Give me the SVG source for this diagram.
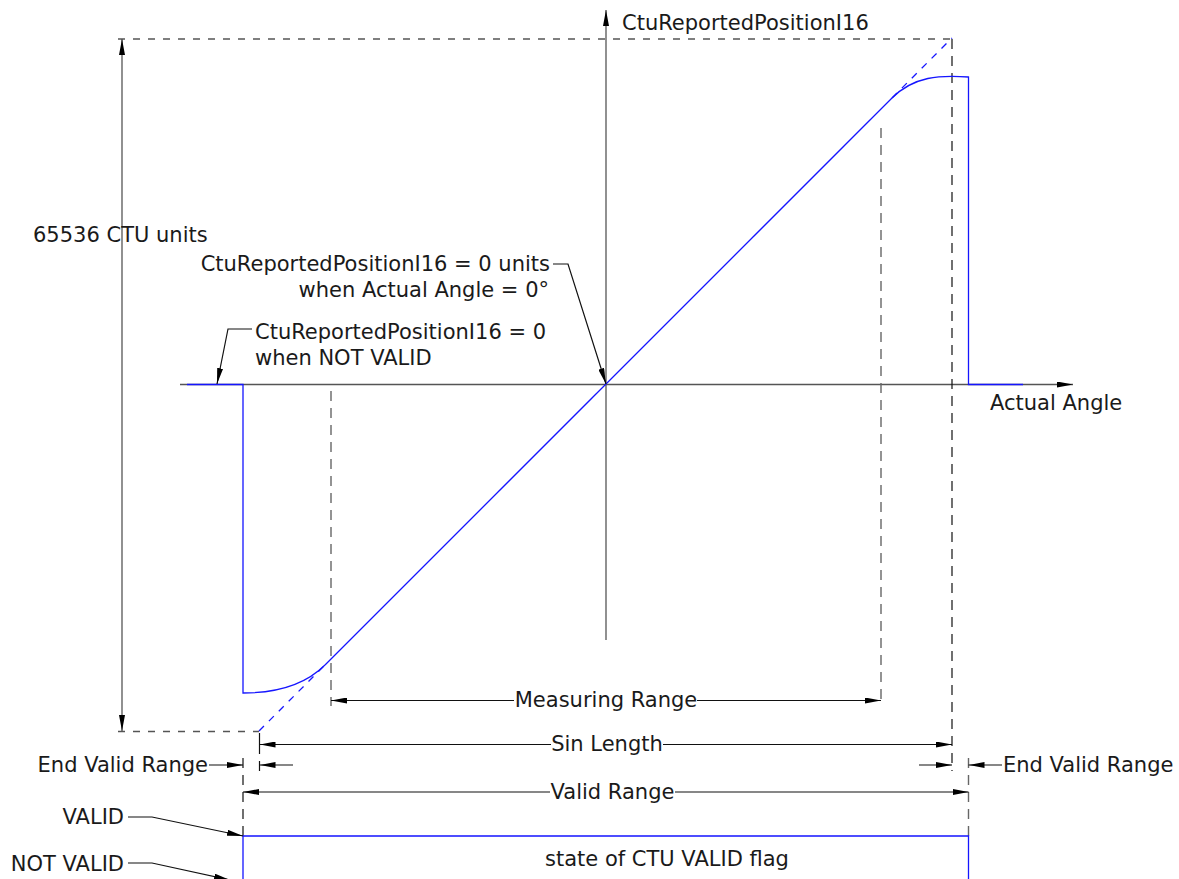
<svg xmlns="http://www.w3.org/2000/svg" width="1179" height="879" viewBox="0 0 1179 879">
<style>
text{font-family:"DejaVu Sans","Liberation Sans",sans-serif;font-size:21px;fill:#1a1a1a}
.g{stroke:#555;stroke-width:1.3;fill:none}
.k{stroke:#111;stroke-width:1.2;fill:none}
.dg{stroke:#666;stroke-width:1.4;fill:none;stroke-dasharray:10 7}
.dk{stroke:#111;stroke-width:1.2;fill:none;stroke-dasharray:10 7}
.dh{stroke:#555;stroke-width:1.3;fill:none;stroke-dasharray:7 8}
.b{stroke:#1515ff;stroke-width:1.3;fill:none}
.bd{stroke:#1515ff;stroke-width:1.3;fill:none;stroke-dasharray:7 7}
.a{marker-end:url(#arr)}
.m{text-anchor:middle}
.e{text-anchor:end}
</style>
<defs>
<marker id="arr" viewBox="0 0 16 6" refX="16" refY="3" markerWidth="16" markerHeight="6" markerUnits="userSpaceOnUse" orient="auto-start-reverse"><path d="M0,0L16,3L0,6Z" fill="#000"/></marker>
</defs>

<g id="axes">
<line class="g a" x1="180" y1="384.5" x2="1073" y2="384.5"/>
<line class="g a" x1="606" y1="640" x2="606" y2="10"/>
</g>

<g id="extension-lines">
<line class="dh" x1="118" y1="39" x2="952" y2="39"/>
<line class="dh" x1="118" y1="731.5" x2="259" y2="731.5"/>
<line class="dk" x1="952" y1="39" x2="952" y2="771"/>
<line class="dg" x1="331" y1="391" x2="331" y2="706"/>
<line class="dg" x1="881" y1="128" x2="881" y2="706"/>
<line class="k" x1="259.5" y1="733" x2="259.5" y2="754"/>
<line class="k" x1="259.5" y1="761" x2="259.5" y2="771"/>
<line class="dk" x1="243" y1="758" x2="243" y2="836"/>
<line class="dg" x1="968.5" y1="758" x2="968.5" y2="836"/>
</g>

<g id="curve">
<line class="bd" x1="259" y1="731" x2="325" y2="665"/>
<line class="b" x1="325" y1="665" x2="892" y2="98"/>
<line class="bd" x1="892" y1="98" x2="952" y2="38"/>
<path class="b" d="M325,665 C305,685 275,693 243,693 L243,384.5 L187,384.5"/>
<path class="b" d="M892,98 C914,76 940,75 968.5,77 L968.5,384.5 L1023,384.5"/>
</g>

<g id="valid-flag">
<path class="b" d="M243,879 L243,836 L968.5,836 L968.5,879"/>
</g>

<g id="connectors">
<line class="g a" x1="122" y1="385" x2="122" y2="39"/>
<line class="g a" x1="122" y1="385" x2="122" y2="731"/>
<line class="k a" x1="514" y1="700.5" x2="331" y2="700.5"/>
<line class="k a" x1="697" y1="700.5" x2="881" y2="700.5"/>
<line class="k a" x1="551" y1="744.5" x2="259.5" y2="744.5"/>
<line class="k a" x1="663" y1="744.5" x2="952" y2="744.5"/>
<line class="k a" x1="550" y1="792" x2="243" y2="792"/>
<line class="k a" x1="675" y1="792" x2="968.5" y2="792"/>
<line class="k a" x1="209" y1="765" x2="243" y2="765"/>
<line class="k a" x1="293" y1="765" x2="259.5" y2="765"/>
<line class="k a" x1="919" y1="765" x2="952" y2="765"/>
<line class="k a" x1="1002" y1="765" x2="968.5" y2="765"/>
<path class="k a" d="M553,264 L568,264 L606,384"/>
<path class="k a" d="M252,329 L228,329 L217,384"/>
<path class="k a" d="M128,817 L152,817 L243,836"/>
<path class="k a" d="M128,863 L152,863 L230,880"/>
</g>

<g id="label-y-axis"><text x="622" y="29.5">CtuReportedPositionI16</text></g>
<g id="label-x-axis"><text x="990" y="410">Actual Angle</text></g>
<g id="label-65536"><text x="33" y="241.5">65536 CTU units</text></g>
<g id="label-zero-units">
<text class="e" x="550" y="271">CtuReportedPositionI16 = 0 units</text>
<text class="e" x="549" y="297">when Actual Angle = 0°</text>
</g>
<g id="label-not-valid-zero">
<text x="255" y="339">CtuReportedPositionI16 = 0</text>
<text x="255" y="365">when NOT VALID</text>
</g>
<g id="label-measuring"><text class="m" x="606" y="707">Measuring Range</text></g>
<g id="label-sin"><text class="m" x="607" y="751">Sin Length</text></g>
<g id="label-valid-range"><text class="m" x="612.5" y="798.5">Valid Range</text></g>
<g id="label-end-left"><text class="e" x="208" y="771.5">End Valid Range</text></g>
<g id="label-end-right"><text x="1003" y="771.5">End Valid Range</text></g>
<g id="label-valid"><text class="e" x="124" y="824">VALID</text></g>
<g id="label-notvalid"><text class="e" x="124" y="870.5">NOT VALID</text></g>
<g id="label-flag"><text class="m" x="667" y="865.5">state of CTU VALID flag</text></g>
</svg>
